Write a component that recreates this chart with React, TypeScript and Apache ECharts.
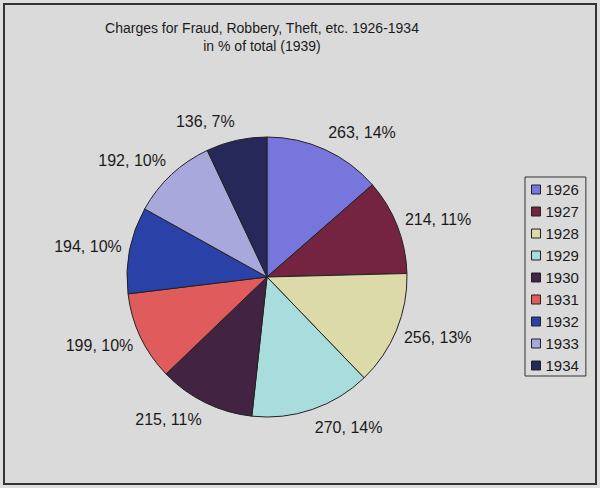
import React, { useEffect, useRef } from "react";
import * as echarts from "echarts";

const titleLines = ["Charges for Fraud, Robbery, Theft, etc. 1926-1934", "in % of total (1939)"];
const years = ["1926", "1927", "1928", "1929", "1930", "1931", "1932", "1933", "1934"];
const charges = [263, 214, 256, 270, 215, 199, 194, 192, 136];
const sliceColors = [
  "#7676dd",
  "#742440",
  "#dcdaa8",
  "#a9dcdc",
  "#422342",
  "#e05c5c",
  "#2a42a8",
  "#a9a8dc",
  "#252858",
];

const FONT = "'Liberation Sans', Arial, sans-serif";
const PIE_CENTER: [number, number] = [267, 277];

export default function App() {
  const ref = useRef<HTMLDivElement>(null);
  useEffect(() => {
    if (!ref.current) return;
    const chart = echarts.init(ref.current, undefined, { renderer: "svg" });
    chart.setOption({
      animation: false,
      backgroundColor: "#dedede",
      graphic: [
        {
          type: "rect",
          z: -10,
          shape: { x: 4, y: 4, width: 592, height: 480 },
          style: { fill: "#dadada", stroke: "#333333", lineWidth: 2 },
          silent: true,
        },
      ],
      title: {
        text: titleLines.join("\n"),
        left: 262,
        top: 19,
        padding: 0,
        textAlign: "center",
        textStyle: {
          fontFamily: FONT,
          fontSize: 14,
          fontWeight: "normal",
          lineHeight: 18,
          color: "#1a1a1a",
        },
      },
      legend: {
        orient: "vertical",
        left: 525,
        top: 177,
        padding: [5, 7, 3, 6],
        borderColor: "#333333",
        borderWidth: 1,
        backgroundColor: "#dadada",
        itemWidth: 9,
        itemHeight: 9,
        itemGap: 7,
        icon: "rect",
        itemStyle: { borderColor: "#222222", borderWidth: 1 },
        textStyle: {
          fontFamily: FONT,
          fontSize: 15,
          lineHeight: 15,
          color: "#1a1a1a",
        },
        data: years,
      },
      series: [
        {
          type: "pie",
          center: PIE_CENTER,
          radius: 140,
          startAngle: 90,
          clockwise: true,
          avoidLabelOverlap: false,
          percentPrecision: 0,
          itemStyle: { borderColor: "#222222", borderWidth: 1 },
          label: {
            show: true,
            position: "outside",
            formatter: "{c}, {d}%",
            fontFamily: FONT,
            fontSize: 16,
            color: "#1a1a1a",
            distanceToLabelLine: 0,
          },
          labelLine: { show: false, length: 8, length2: 0 },
          labelLayout: (params: any) => {
            const r = params.labelRect;
            const cy = r.y + r.height / 2;
            const cx = params.align === "right" ? r.x + r.width : r.x;
            const vx = cx - PIE_CENTER[0];
            const vy = cy - PIE_CENTER[1];
            const d = Math.sqrt(vx * vx + vy * vy) || 1;
            return { dy: (vy / d) * (r.height / 2 + 3) };
          },
          emphasis: { disabled: true },
          data: years.map((y, i) => ({
            name: y,
            value: charges[i],
            itemStyle: { color: sliceColors[i] },
          })),
        },
      ],
    });
    return () => chart.dispose();
  }, []);
  return (
    <div
      ref={ref}
      style={{ position: "absolute", left: 0, top: 0, width: 600, height: 488 }}
    />
  );
}
